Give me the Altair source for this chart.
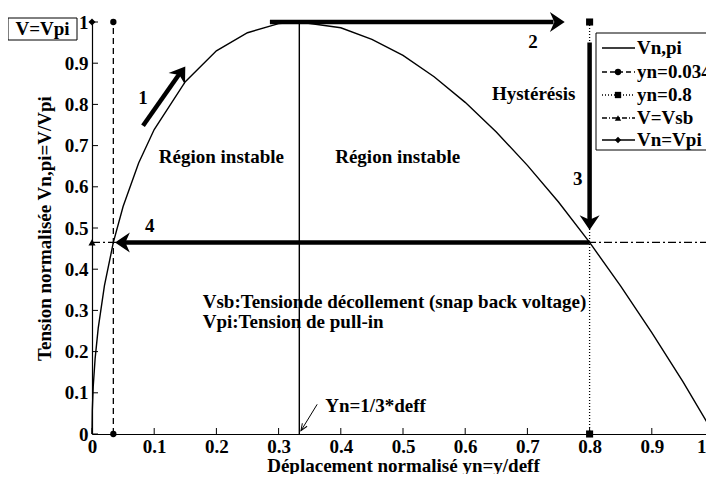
import altair as alt
import pandas as pd

# ---------------- data ----------------
yn = [0, 0.0005, 0.002, 0.005, 0.01, 0.02, 0.0343, 0.05, 0.075, 0.1, 0.15, 0.2, 0.25, 0.3,
      0.3333, 0.4, 0.45, 0.5, 0.55, 0.6, 0.65, 0.7, 0.75, 0.8, 0.85, 0.9, 0.95, 1.0]
vn = [0, 0.058, 0.116, 0.183, 0.257, 0.360, 0.465, 0.552, 0.658, 0.739, 0.855, 0.930, 0.974, 0.996,
      1.0, 0.986, 0.958, 0.919, 0.867, 0.805, 0.733, 0.652, 0.563, 0.465, 0.359, 0.246, 0.127, 0.0]

x_ticks = [0, 0.1, 0.2, 0.3, 0.4, 0.5, 0.6, 0.7, 0.8, 0.9, 1]
y_ticks = [0, 0.1, 0.2, 0.3, 0.4, 0.5, 0.6, 0.7, 0.8, 0.9, 1]

yn_snap = 0.0343
yn_pull = 0.8
v_sb = 0.465
yn_third = 0.3333

# arrows: shaft start, shaft end, tip, head angle
arr_x0 = [0.082, 0.286, 0.8, 0.8]
arr_y0 = [0.748, 1.0, 0.95, 0.465]
arr_x1 = [0.141, 0.742, 0.8, 0.052]
arr_y1 = [0.875, 1.0, 0.515, 0.465]
arr_tx = [0.150, 0.760, 0.8, 0.037]
arr_ty = [0.892, 1.0, 0.495, 0.465]
arr_ang = [305, 0, 90, 180]
arr_lab = ["1", "2", "3", "4"]
arr_lx = [0.082, 0.709, 0.781, 0.093]
arr_ly = [0.815, 0.952, 0.620, 0.505]

ann_text = ["Région instable", "Région instable", "Hystérésis",
            "Vsb:Tensionde décollement (snap back voltage)", "Vpi:Tension de pull-in", "Yn=1/3*deff"]
ann_x = [0.208, 0.391, 0.643, 0.178, 0.178, 0.375]
ann_y = [0.673, 0.673, 0.825, 0.320, 0.272, 0.067]
ann_align = ["center", "left", "left", "left", "left", "left"]

leg_labels = ["Vn,pi", "yn=0.0343", "yn=0.8", "V=Vsb", "Vn=Vpi"]
leg_dash = [[1, 0], [5, 3], [1, 2], [5, 2, 1, 2], [1, 0]]
leg_shape = [None, "circle", "square", "triangle-up", "diamond"]

FONT = "Liberation Serif"
W, H = 622, 412
FS = 19

xs = alt.Scale(domain=[0, 1], nice=False, zero=False)
ys = alt.Scale(domain=[0, 1], nice=False, zero=False)
XA = alt.Axis(values=x_ticks, format="~g", title="Déplacement normalisé yn=y/deff",
              labelAlign={"condition": {"test": "datum.value >= 1", "value": "right"}, "value": "center"},
              labelOffset={"condition": {"test": "datum.value >= 1", "value": -8}, "value": 0})
YA = alt.Axis(values=y_ticks, format="~g", title="Tension normalisée Vn,pi=V/Vpi")


def X(f="x"):
    return alt.X(f"{f}:Q", scale=xs, axis=XA)


def Y(f="y"):
    return alt.Y(f"{f}:Q", scale=ys, axis=YA)


one = pd.DataFrame({"a": [0]})

# ---------------- curve ----------------
curve = alt.Chart(pd.DataFrame({"x": yn, "y": vn})).mark_line(color="black", strokeWidth=1.4).encode(
    x=X(), y=Y())

# inward ticks
xt = alt.Chart(pd.DataFrame({"x": x_ticks})).mark_rule(color="black", strokeWidth=1).encode(
    x=X(), y=alt.value(H), y2=alt.value(H - 6))
yt = alt.Chart(pd.DataFrame({"y": y_ticks})).mark_rule(color="black", strokeWidth=1).encode(
    y=Y(), x=alt.value(0), x2=alt.value(6))

# reference lines
v_snap = alt.Chart(pd.DataFrame({"x": [yn_snap], "y": [0], "y2": [1]})).mark_rule(
    color="black", strokeWidth=1.3, strokeDash=[6, 4]).encode(x=X(), y=Y(), y2="y2:Q")
v_pull = alt.Chart(pd.DataFrame({"x": [yn_pull], "y": [0], "y2": [1]})).mark_rule(
    color="black", strokeWidth=1.3, strokeDash=[1, 2]).encode(x=X(), y=Y(), y2="y2:Q")
v_third = alt.Chart(pd.DataFrame({"x": [yn_third], "y": [0], "y2": [1]})).mark_rule(
    color="black", strokeWidth=1.4).encode(x=X(), y=Y(), y2="y2:Q")
h_sb = alt.Chart(pd.DataFrame({"x": [0], "x2": [1], "y": [v_sb]})).mark_rule(
    color="black", strokeWidth=1.2, strokeDash=[8, 3, 2, 3]).encode(x=X(), x2="x2:Q", y=Y())

# markers
def pts(xv, yv, shape, size=45, clip=False):
    return alt.Chart(pd.DataFrame({"x": xv, "y": yv})).mark_point(
        shape=shape, filled=True, color="black", size=size, opacity=1, clip=clip).encode(x=X(), y=Y())

m_circ = pts([yn_snap, yn_snap], [0, 1], "circle", 40)
m_sq = pts([yn_pull, yn_pull], [0, 1], "square", 50)
m_tri_l = pts([0], [v_sb], "triangle-up", 50)
m_tri_r = pts([1], [v_sb], "triangle-up", 50, clip=True)
m_dia_l = pts([0], [1], "diamond", 50)
m_dia_r = pts([1], [1], "diamond", 50, clip=True)

# thick arrows
arr_df = pd.DataFrame({"x": arr_x0, "y": arr_y0, "x2": arr_x1, "y2": arr_y1,
                       "tx": arr_tx, "ty": arr_ty, "ang": arr_ang,
                       "lab": arr_lab, "lx": arr_lx, "ly": arr_ly})
shafts = alt.Chart(arr_df).mark_rule(color="black", strokeWidth=4.5, strokeCap="butt").encode(
    x=X(), y=Y(), x2="x2:Q", y2="y2:Q")
HEAD = "M 0 0 L -2 -1.35 L -1.4 0 L -2 1.35 Z"
heads = alt.layer(*[
    alt.Chart(arr_df.iloc[[i]]).mark_point(shape=HEAD, filled=True, color="black", opacity=1,
                                           size=220, angle=arr_ang[i], strokeWidth=0).encode(
        x=X("tx"), y=Y("ty"))
    for i in range(len(arr_ang))
])
arr_labels = alt.Chart(arr_df).mark_text(font=FONT, fontSize=FS, fontWeight="bold", color="black").encode(
    x=X("lx"), y=Y("ly"), text="lab:N")

# thin arrow for Yn=1/3*deff
thin = alt.Chart(pd.DataFrame({"x": [0.362], "y": [0.072], "x2": [0.336], "y2": [0.008]})).mark_rule(
    color="black", strokeWidth=1).encode(x=X(), y=Y(), x2="x2:Q", y2="y2:Q")
thin_head = alt.Chart(pd.DataFrame({"x": [0.336], "y": [0.008]})).mark_point(
    shape="M -2 -0.8 L 0 0 L -2 0.8", filled=False, color="black", size=49, angle=122,
    strokeWidth=1, opacity=1).encode(x=X(), y=Y())

# annotations
ann_layers = [
    alt.Chart(pd.DataFrame({"x": [ann_x[i]], "y": [ann_y[i]], "t": [ann_text[i]]})).mark_text(
        font=FONT, fontSize=FS, fontWeight="bold", color="black", align=ann_align[i], baseline="middle").encode(
        x=X(), y=Y(), text="t:N")
    for i in range(len(ann_text))
]

# legend box (drawn by hand, clipped at the plot's right edge like the reference)
leg_box = alt.Chart(one).mark_rect(fill="white", stroke="black", strokeWidth=1, clip=True).encode(
    x=alt.value(504), x2=alt.value(640), y=alt.value(11), y2=alt.value(128))
leg_rows = [26, 50, 73, 96, 118]
leg_layers = []
for i, lab in enumerate(leg_labels):
    ry = leg_rows[i]
    leg_layers.append(alt.Chart(one).mark_rule(color="black", strokeWidth=1.3, strokeDash=leg_dash[i],
                                               clip=True).encode(
        x=alt.value(510), x2=alt.value(543), y=alt.value(ry)))
    if leg_shape[i]:
        leg_layers.append(alt.Chart(one).mark_point(shape=leg_shape[i], filled=True, color="black",
                                                    size=40, opacity=1, clip=True).encode(
            x=alt.value(526), y=alt.value(ry)))
    leg_layers.append(alt.Chart(pd.DataFrame({"t": [lab]})).mark_text(
        font=FONT, fontSize=FS, fontWeight="bold", color="black", align="left", baseline="middle",
        clip=True).encode(
        x=alt.value(545), y=alt.value(ry), text="t:N"))

# "V=Vpi" box at top-left
vbox = alt.Chart(one).mark_rect(fill="white", stroke="black", strokeWidth=1).encode(
    x=alt.value(-84), x2=alt.value(-15), y=alt.value(-4), y2=alt.value(18))
vbox_t = alt.Chart(pd.DataFrame({"t": ["V=Vpi"]})).mark_text(
    font=FONT, fontSize=FS, fontWeight="bold", color="black", align="center", baseline="middle").encode(
    x=alt.value(-49.5), y=alt.value(7), text="t:N")

chart = alt.layer(
    curve, v_snap, v_pull, v_third, h_sb, xt, yt,
    shafts, heads, arr_labels, thin, thin_head,
    m_circ, m_sq, m_tri_l, m_tri_r, m_dia_l, m_dia_r,
    *ann_layers, leg_box, *leg_layers, vbox, vbox_t
).properties(
    width=W, height=H,
    autosize=alt.AutoSizeParams(type="none"),
    padding={"left": 84, "top": 14, "right": -8, "bottom": 40},
).configure_view(stroke=None).configure_axis(
    labelFont=FONT, labelFontSize=FS, labelFontWeight="bold", labelColor="black",
    titleFont=FONT, titleFontSize=FS, titleFontWeight="bold", titleColor="black",
    domainColor="black", domainWidth=1.2, ticks=False, tickSize=0, grid=False,
    labelPadding=4, titlePadding=10, labelOverlap=False,
).configure_axisX(labelPadding=3, titlePadding=0)

chart.save("out.html", embed_options={"renderer": "svg", "actions": False})
